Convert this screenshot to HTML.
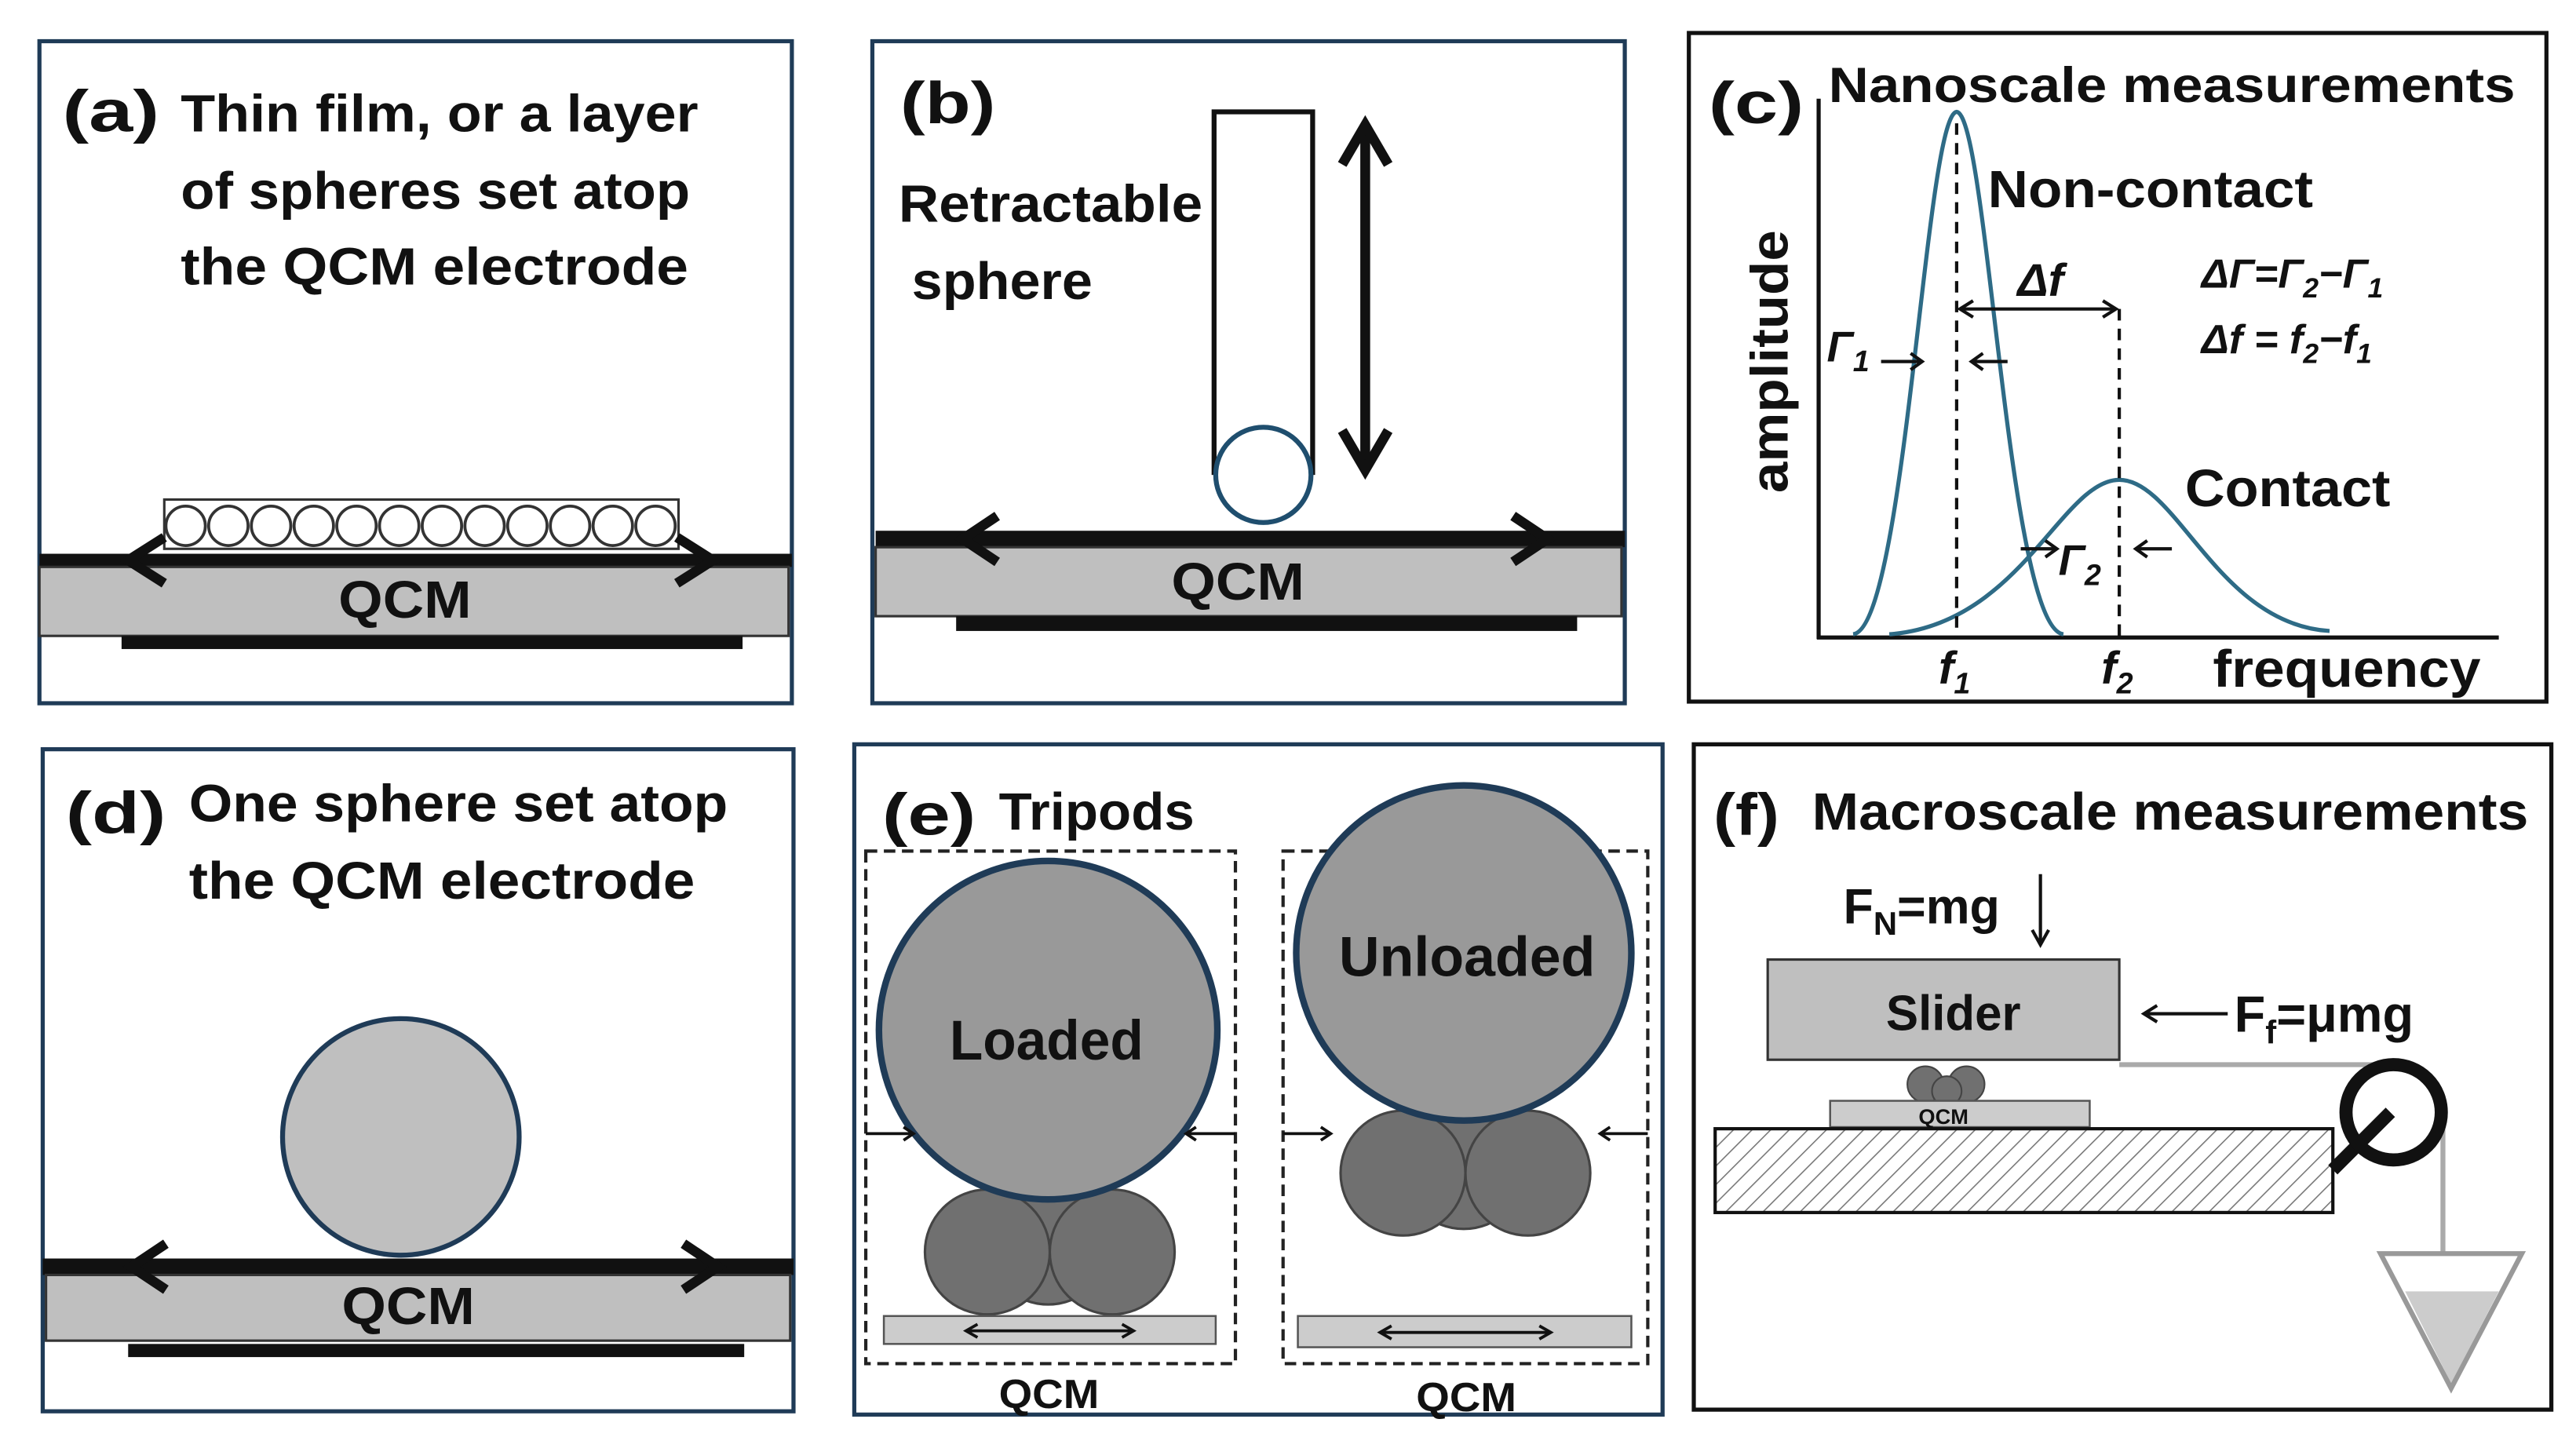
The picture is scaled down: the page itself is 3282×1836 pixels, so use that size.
<!DOCTYPE html>
<html><head><meta charset="utf-8"><style>
html,body{margin:0;padding:0;background:#fff}
svg{display:block}
text{font-family:"Liberation Sans",sans-serif;font-weight:bold;fill:#111}
</style></head><body>
<svg width="3282" height="1836" viewBox="0 0 1568 877" xmlns="http://www.w3.org/2000/svg">
<defs>
<pattern id="h" width="8" height="8" patternUnits="userSpaceOnUse" patternTransform="rotate(45)">
<rect width="8" height="8" fill="#fff"/><line x1="0" y1="0" x2="0" y2="8" stroke="#777" stroke-width="1.5"/></pattern>
</defs>
<g fill="none" stroke-width="2.5">
<rect x="24" y="25" width="458" height="403" stroke="#1f3b57"/>
<rect x="531" y="25" width="458" height="403" stroke="#1f3b57"/>
<rect x="1028" y="20" width="522" height="407" stroke="#111"/>
<rect x="26" y="456" width="457" height="403" stroke="#1f3b57"/>
<rect x="520" y="453" width="492" height="408" stroke="#1f3b57"/>
<rect x="1031" y="453" width="522" height="405" stroke="#111"/>
</g>
<!-- (a) -->
<text x="38" y="80" font-size="36" textLength="59" lengthAdjust="spacingAndGlyphs">(a)</text>
<text x="110" y="80" font-size="32" textLength="315" lengthAdjust="spacingAndGlyphs">Thin film, or a layer</text>
<text x="110" y="127" font-size="32" textLength="310" lengthAdjust="spacingAndGlyphs">of spheres set atop</text>
<text x="110" y="173" font-size="32" textLength="309" lengthAdjust="spacingAndGlyphs">the QCM electrode</text>
<rect x="100" y="304" width="313" height="30" fill="#fff" stroke="#333" stroke-width="1.5"/>
<g fill="#fff" stroke="#333" stroke-width="1.8">
<circle cx="113" cy="320" r="12"/><circle cx="139" cy="320" r="12"/><circle cx="165" cy="320" r="12"/><circle cx="191" cy="320" r="12"/><circle cx="217" cy="320" r="12"/><circle cx="243" cy="320" r="12"/><circle cx="269" cy="320" r="12"/><circle cx="295" cy="320" r="12"/><circle cx="321" cy="320" r="12"/><circle cx="347" cy="320" r="12"/><circle cx="373" cy="320" r="12"/><circle cx="399" cy="320" r="12"/>
</g>
<rect x="24" y="337" width="458" height="8" fill="#111"/>
<rect x="24" y="345" width="456" height="42" fill="#bfbfbf" stroke="#333" stroke-width="1.5"/>
<rect x="74" y="387" width="378" height="8" fill="#111"/>
<polyline points="100,327 78,341 100,355" fill="none" stroke="#111" stroke-width="6"/>
<polyline points="412,327 434,341 412,355" fill="none" stroke="#111" stroke-width="6"/>
<text x="206" y="376" font-size="32" textLength="81" lengthAdjust="spacingAndGlyphs">QCM</text>
<!-- (b) -->
<text x="548" y="75" font-size="36" textLength="58" lengthAdjust="spacingAndGlyphs">(b)</text>
<text x="547" y="135" font-size="32" textLength="185" lengthAdjust="spacingAndGlyphs">Retractable</text>
<text x="555" y="182" font-size="32" textLength="110" lengthAdjust="spacingAndGlyphs">sphere</text>
<polyline points="739,289 739,68 799,68 799,289" fill="none" stroke="#111" stroke-width="3"/>
<circle cx="769" cy="289" r="29" fill="#fff" stroke="#1f4e6e" stroke-width="3"/>
<line x1="831" y1="76" x2="831" y2="286" stroke="#111" stroke-width="6"/>
<polyline points="817,100 831,76 845,100" fill="none" stroke="#111" stroke-width="6"/>
<polyline points="817,262 831,286 845,262" fill="none" stroke="#111" stroke-width="6"/>
<rect x="533" y="323" width="456" height="10" fill="#111"/>
<rect x="533" y="333" width="454" height="42" fill="#bfbfbf" stroke="#333" stroke-width="1.5"/>
<rect x="582" y="375" width="378" height="9" fill="#111"/>
<polyline points="607,314 586,328 607,342" fill="none" stroke="#111" stroke-width="6"/>
<polyline points="921,314 942,328 921,342" fill="none" stroke="#111" stroke-width="6"/>
<text x="713" y="365" font-size="32" textLength="81" lengthAdjust="spacingAndGlyphs">QCM</text>
<!-- (c) -->
<text x="1040" y="75" font-size="36" textLength="58" lengthAdjust="spacingAndGlyphs">(c)</text>
<text x="1113" y="62" font-size="30" textLength="418" lengthAdjust="spacingAndGlyphs">Nanoscale measurements</text>
<line x1="1107" y1="60" x2="1107" y2="389" stroke="#111" stroke-width="2.5"/>
<line x1="1106" y1="388" x2="1521" y2="388" stroke="#111" stroke-width="2.5"/>
<text transform="translate(1088,220) rotate(-90)" font-size="32" text-anchor="middle" textLength="160" lengthAdjust="spacingAndGlyphs">amplitude</text>
<path d="M1128,386 C1160,382 1172,70 1191,68 C1210,70 1222,382 1256,386" fill="none" stroke="#2e6b86" stroke-width="2.5"/>
<path d="M1150,386 C1230,380 1255,292 1290,292 C1325,292 1350,380 1418,384" fill="none" stroke="#2e6b86" stroke-width="2.5"/>
<line x1="1191" y1="75" x2="1191" y2="388" stroke="#111" stroke-width="2" stroke-dasharray="7,5"/>
<line x1="1290" y1="188" x2="1290" y2="388" stroke="#111" stroke-width="2" stroke-dasharray="7,5"/>
<line x1="1193" y1="188" x2="1288" y2="188" stroke="#111" stroke-width="2"/>
<polyline points="1201,183 1193,188 1201,193" fill="none" stroke="#111" stroke-width="2"/>
<polyline points="1280,183 1288,188 1280,193" fill="none" stroke="#111" stroke-width="2"/>
<g stroke="#111" stroke-width="2" fill="none">
<line x1="1145" y1="220" x2="1170" y2="220"/><polyline points="1163,215 1170,220 1163,225"/>
<line x1="1200" y1="220" x2="1222" y2="220"/><polyline points="1207,215 1200,220 1207,225"/>
<line x1="1230" y1="334" x2="1252" y2="334"/><polyline points="1245,329 1252,334 1245,339"/>
<line x1="1300" y1="334" x2="1322" y2="334"/><polyline points="1307,329 1300,334 1307,339"/>
</g>
<text x="1210" y="126" font-size="32" textLength="198" lengthAdjust="spacingAndGlyphs">Non-contact</text>
<text x="1228" y="180" font-size="28" font-style="italic">Δf</text>
<text x="1112" y="220" font-size="26" font-style="italic">Γ<tspan font-size="18" dy="6">1</tspan></text>
<text x="1253" y="350" font-size="26" font-style="italic">Γ<tspan font-size="18" dy="6">2</tspan></text>
<text x="1340" y="175" font-size="25" font-style="italic">ΔΓ=Γ<tspan font-size="17" dy="6">2</tspan><tspan dy="-6">−Γ</tspan><tspan font-size="17" dy="6">1</tspan></text>
<text x="1340" y="215" font-size="25" font-style="italic">Δf = f<tspan font-size="17" dy="6">2</tspan><tspan dy="-6">−f</tspan><tspan font-size="17" dy="6">1</tspan></text>
<text x="1330" y="308" font-size="32" textLength="125" lengthAdjust="spacingAndGlyphs">Contact</text>
<text x="1180" y="416" font-size="28" font-style="italic">f<tspan font-size="18" dy="6">1</tspan></text>
<text x="1279" y="416" font-size="28" font-style="italic">f<tspan font-size="18" dy="6">2</tspan></text>
<text x="1347" y="418" font-size="32" textLength="163" lengthAdjust="spacingAndGlyphs">frequency</text>
<!-- (d) -->
<text x="40" y="507" font-size="36" textLength="61" lengthAdjust="spacingAndGlyphs">(d)</text>
<text x="115" y="500" font-size="32" textLength="328" lengthAdjust="spacingAndGlyphs">One sphere set atop</text>
<text x="115" y="547" font-size="32" textLength="308" lengthAdjust="spacingAndGlyphs">the QCM electrode</text>
<circle cx="244" cy="692" r="72" fill="#bfbfbf" stroke="#1f3b57" stroke-width="3"/>
<rect x="26" y="766" width="457" height="10" fill="#111"/>
<rect x="28" y="776" width="453" height="40" fill="#bfbfbf" stroke="#333" stroke-width="1.5"/>
<rect x="78" y="818" width="375" height="8" fill="#111"/>
<polyline points="101,757 80,771 101,785" fill="none" stroke="#111" stroke-width="6"/>
<polyline points="416,757 437,771 416,785" fill="none" stroke="#111" stroke-width="6"/>
<text x="208" y="806" font-size="32" textLength="81" lengthAdjust="spacingAndGlyphs">QCM</text>
<!-- (e) -->
<text x="537" y="508" font-size="36" textLength="57" lengthAdjust="spacingAndGlyphs">(e)</text>
<text x="608" y="505" font-size="32" textLength="119" lengthAdjust="spacingAndGlyphs">Tripods</text>
<rect x="527" y="518" width="225" height="312" fill="none" stroke="#222" stroke-width="2" stroke-dasharray="7,4"/>
<rect x="781" y="518" width="222" height="312" fill="none" stroke="#222" stroke-width="2" stroke-dasharray="7,4"/>
<g fill="#707070" stroke="#444" stroke-width="1.5">
<circle cx="638" cy="756" r="38"/><circle cx="601" cy="762" r="38"/><circle cx="677" cy="762" r="38"/>
<circle cx="891" cy="710" r="38"/><circle cx="854" cy="714" r="38"/><circle cx="930" cy="714" r="38"/>
</g>
<circle cx="638" cy="627" r="103" fill="#999" stroke="#1f3b57" stroke-width="4"/>
<circle cx="891" cy="580" r="102" fill="#999" stroke="#1f3b57" stroke-width="4"/>
<text x="578" y="645" font-size="34" textLength="118" lengthAdjust="spacingAndGlyphs">Loaded</text>
<text x="815" y="594" font-size="34" textLength="156" lengthAdjust="spacingAndGlyphs">Unloaded</text>
<rect x="538" y="801" width="202" height="17" fill="#ccc" stroke="#555" stroke-width="1.2"/>
<rect x="790" y="801" width="203" height="19" fill="#ccc" stroke="#555" stroke-width="1.2"/>
<g stroke="#111" stroke-width="1.8" fill="none">
<line x1="588" y1="810" x2="690" y2="810"/><polyline points="595,806 588,810 595,814"/><polyline points="683,806 690,810 683,814"/>
<line x1="840" y1="811" x2="944" y2="811"/><polyline points="847,807 840,811 847,815"/><polyline points="937,807 944,811 937,815"/>
<line x1="527" y1="690" x2="556" y2="690"/><polyline points="550,686 556,690 550,694"/>
<line x1="752" y1="690" x2="722" y2="690"/><polyline points="728,686 722,690 728,694"/>
<line x1="781" y1="690" x2="810" y2="690"/><polyline points="804,686 810,690 804,694"/>
<line x1="1003" y1="690" x2="974" y2="690"/><polyline points="980,686 974,690 980,694"/>
</g>
<text x="608" y="857" font-size="25" textLength="61" lengthAdjust="spacingAndGlyphs">QCM</text>
<text x="862" y="859" font-size="25" textLength="61" lengthAdjust="spacingAndGlyphs">QCM</text>
<!-- (f) -->
<text x="1043" y="508" font-size="36" textLength="40" lengthAdjust="spacingAndGlyphs">(f)</text>
<text x="1103" y="505" font-size="32" textLength="436" lengthAdjust="spacingAndGlyphs">Macroscale measurements</text>
<text x="1122" y="562" font-size="30">F<tspan font-size="20" dy="7">N</tspan><tspan dy="-7">=mg</tspan></text>
<line x1="1242" y1="532" x2="1242" y2="574" stroke="#111" stroke-width="2"/>
<polyline points="1237,566 1242,575 1247,566" fill="none" stroke="#111" stroke-width="2"/>
<rect x="1076" y="584" width="214" height="61" fill="#bfbfbf" stroke="#333" stroke-width="1.5"/>
<text x="1148" y="627" font-size="30" textLength="82" lengthAdjust="spacingAndGlyphs" font-weight="normal">Slider</text>
<line x1="1305" y1="617" x2="1356" y2="617" stroke="#111" stroke-width="2"/>
<polyline points="1313,612 1305,617 1313,622" fill="none" stroke="#111" stroke-width="2"/>
<text x="1360" y="628" font-size="31">F<tspan font-size="20" dy="7">f</tspan><tspan dy="-7">=μmg</tspan></text>
<line x1="1290" y1="648" x2="1455" y2="648" stroke="#aaa" stroke-width="3"/>
<line x1="1487" y1="680" x2="1487" y2="764" stroke="#aaa" stroke-width="3"/>
<g fill="#707070" stroke="#444" stroke-width="1"><circle cx="1172" cy="660" r="11"/><circle cx="1197" cy="660" r="11"/><circle cx="1185" cy="664" r="9"/></g>
<rect x="1114" y="670" width="158" height="16" fill="#ccc" stroke="#555" stroke-width="1.2"/>
<text x="1183" y="684" font-size="13" text-anchor="middle">QCM</text>
<rect x="1044" y="687" width="376" height="51" fill="url(#h)" stroke="#111" stroke-width="2"/>
<line x1="1420" y1="712" x2="1455" y2="677" stroke="#111" stroke-width="8"/>
<circle cx="1457" cy="677" r="29" fill="none" stroke="#111" stroke-width="8"/>
<polygon points="1464,786 1521,786 1492,842" fill="#ccc"/>
<polygon points="1449,763 1535,763 1492,845" fill="none" stroke="#999" stroke-width="3"/>
</svg>
</body></html>
